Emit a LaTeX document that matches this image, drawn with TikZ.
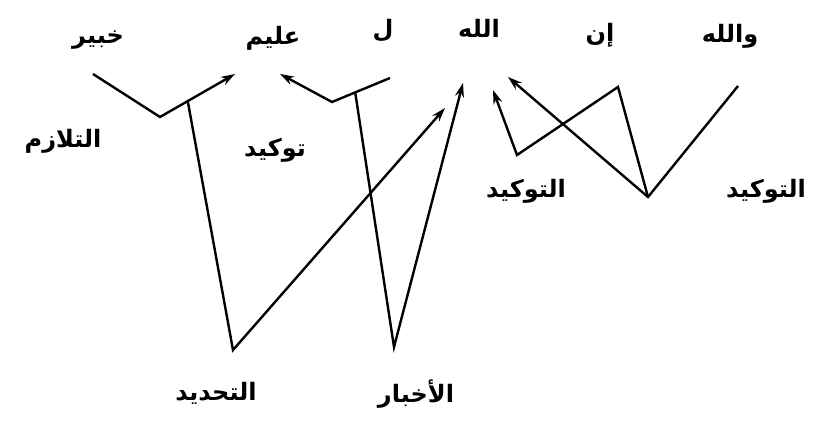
\documentclass[tikz,border=0pt]{standalone}
\usepackage{fontspec}
\usetikzlibrary{arrows.meta,calc}
\newfontfamily\arabicfont[Script=Arabic]{DejaVu Sans}
\TeXXeTstate=1

\begin{document}
\begin{tikzpicture}[x=1pt,y=-1pt,
    word/.style={font=\arabicfont\bfseries\fontsize{24}{28}\selectfont, inner sep=0pt},
    link/.style={line width=2.4pt, line join=miter},
    tip/.style={-{Stealth[length=14pt,width=9pt]}}]
    \useasboundingbox (0,0) rectangle (815,423);

    % Words of the sentence
    \node[word] (khabir) at (98,40) {\beginR خبير\endR};
    \node[word] (alim) at (273,38) {\beginR عليم\endR};
    \node[word] (lam) at (383,31) {\beginR ل\endR};
    \node[word] (allah) at (479,28) {\beginR الله\endR};
    \node[word] (inna) at (600,35) {\beginR إن\endR};
    \node[word] (wallah) at (730,36) {\beginR والله\endR};

    % Relation labels
    \node[word] (talazum) at (63,141) {\beginR التلازم\endR};
    \node[word] (tawkid) at (275,150) {\beginR توكيد\endR};
    \node[word] (tahdid) at (216,393) {\beginR التحديد\endR};
    \node[word] (ikhbar) at (416,394) {\beginR الأخبار\endR};
    \node[word] (tawkidA) at (526,191) {\beginR التوكيد\endR};
    \node[word] (tawkidB) at (766,191) {\beginR التوكيد\endR};

    % Corners of the links
    \coordinate (k1) at (93,74);
    \coordinate (kv) at (160,117);
    \coordinate (k2) at (235,74);
    \coordinate (l1) at (390,78);
    \coordinate (lv) at (332,102);
    \coordinate (l2) at (280,74);
    \coordinate (kj) at ($(kv)!0.37!(k2)$);
    \coordinate (lj) at ($(lv)!0.4!(l1)$);
    \coordinate (dv) at (233,350);
    \coordinate (d2) at (445,108);
    \coordinate (av) at (394,347);
    \coordinate (a2) at (463,83);
    \coordinate (tv) at (648,197);
    \coordinate (t1) at (738,86);
    \coordinate (t2) at (508,77);
    \coordinate (ta) at (618,87);
    \coordinate (tb) at (517,155);
    \coordinate (t3) at (493,90);

    % Links
    \draw[link,tip] (k1) -- (kv) -- (k2);
    \draw[link,tip] (l1) -- (lv) -- (l2);
    \draw[link,tip] (kj) -- (dv) -- (d2);
    \draw[link,tip] (lj) -- (av) -- (a2);
    \draw[link,tip] (t1) -- (tv) -- (t2);
    \draw[link,tip] (tv) -- (ta) -- (tb) -- (t3);
\end{tikzpicture}
\end{document}
